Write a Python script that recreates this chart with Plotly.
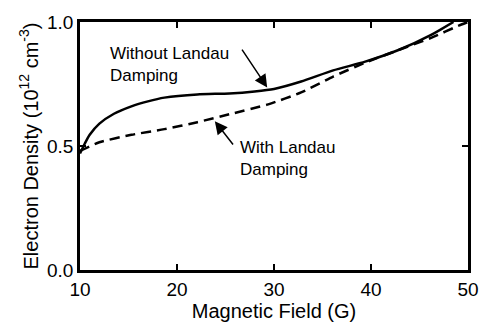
import plotly.graph_objects as go

# Data
field_solid = [10.0, 10.5, 11.0, 12.0, 13.5, 15.3, 17.0, 18.7, 22.1, 25.4, 28.0, 30.0, 32.8, 36.1, 39.4, 42.9, 46.2, 48.5]
dens_solid = [0.47, 0.51, 0.545, 0.59, 0.63, 0.66, 0.68, 0.695, 0.708, 0.712, 0.72, 0.73, 0.76, 0.805, 0.84, 0.888, 0.948, 1.0]
field_dash = [10.0, 12.0, 15.3, 18.7, 22.1, 25.4, 29.4, 32.8, 36.1, 39.4, 42.9, 46.2, 49.2, 50.0]
dens_dash = [0.48, 0.515, 0.545, 0.568, 0.596, 0.628, 0.668, 0.716, 0.78, 0.836, 0.888, 0.936, 0.988, 1.0]
xticks = [10, 20, 30, 40, 50]
yticks = [0.0, 0.5, 1.0]

fig = go.Figure()
fig.add_trace(go.Scatter(x=field_solid, y=dens_solid, mode="lines",
                         line=dict(color="black", width=2.5, shape="spline", smoothing=0.6), showlegend=False))
fig.add_trace(go.Scatter(x=field_dash, y=dens_dash, mode="lines",
                         line=dict(color="black", width=2.5, dash="10px,6px", shape="spline", smoothing=0.6), showlegend=False))

font = dict(family="Liberation Sans, Arial, sans-serif", color="black")
fig.add_annotation(x=29.3, y=0.736, ax=26.6, ay=0.895, axref="x", ayref="y", xref="x", yref="y",
                   text="", showarrow=True, arrowhead=2, arrowsize=1.7, arrowwidth=1.5, arrowcolor="black")
fig.add_annotation(x=23.9, y=0.60, ax=25.9, ay=0.50, axref="x", ayref="y", xref="x", yref="y",
                   text="", showarrow=True, arrowhead=2, arrowsize=1.7, arrowwidth=1.5, arrowcolor="black")
fig.add_annotation(x=12.9, y=0.83, xref="x", yref="y", xanchor="left", yanchor="middle", align="left",
                   text="Without Landau<br>Damping", showarrow=False, font=dict(size=17, **font))
fig.add_annotation(x=26.3, y=0.45, xref="x", yref="y", xanchor="left", yanchor="middle", align="left",
                   text="With Landau<br>Damping", showarrow=False, font=dict(size=17, **font))

axis_common = dict(showline=True, linecolor="black", linewidth=2.5, mirror="ticks", ticks="inside",
                   ticklen=6, tickwidth=1.5, tickcolor="black", showgrid=False, zeroline=False,
                   tickfont=dict(size=19, **font))
fig.update_xaxes(range=[10, 50], tickvals=xticks, ticktext=[str(v) for v in xticks],
                 title=dict(text="Magnetic Field (G)", font=dict(size=20, **font), standoff=2), **axis_common)
fig.update_yaxes(range=[0, 1.0], tickvals=yticks, ticktext=["0.0", "0.5", "1.0"],
                 title=dict(text="Electron Density (10<sup>12</sup> cm<sup>-3</sup>)", font=dict(size=20, **font), standoff=4),
                 **axis_common)
fig.update_layout(width=491, height=328, margin=dict(l=80, r=13, t=22, b=56),
                  plot_bgcolor="white", paper_bgcolor="white")
fig.write_html("out.html")
